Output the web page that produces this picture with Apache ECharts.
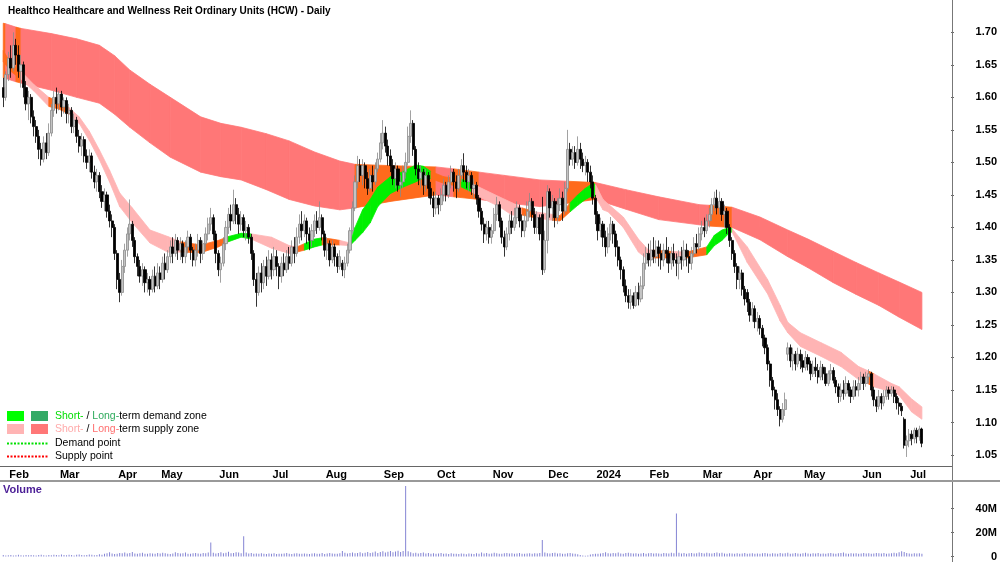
<!DOCTYPE html>
<html>
<head>
<meta charset="utf-8">
<script src="https://cdn.jsdelivr.net/npm/echarts@6/dist/echarts.min.js"></script>
<style>
  html, body { margin: 0; padding: 0; background: #fff; }
  #chart { width: 1000px; height: 562px; }
</style>
</head>
<body>
<div id="chart"></div>
<script>
const FONT = '"Liberation Sans", Arial, sans-serif'

// month tick positions (trading-day index) and their labels
const monthStarts = [2, 22, 45, 62, 85, 106, 127, 150, 171, 193, 215, 234, 255, 276, 296, 316, 339, 358]
const monthLabels = ['Feb', 'Mar', 'Apr', 'May', 'Jun', 'Jul', 'Aug', 'Sep', 'Oct', 'Nov', 'Dec', '2024', 'Feb', 'Mar', 'Apr', 'May', 'Jun', 'Jul']
const slotCount = 375

const priceTicks = [1.05, 1.10, 1.15, 1.20, 1.25, 1.30, 1.35, 1.40, 1.45, 1.50, 1.55, 1.60, 1.65, 1.70]
const volumeTicks = [0, 20, 40]

// daily candles: [open, close, low, high]
const candles = [
  [1.615,1.600,1.585,1.630],[1.600,1.635,1.595,1.640],[1.635,1.660,1.625,1.670],[1.660,1.645,1.630,1.680],
  [1.645,1.680,1.640,1.700],[1.680,1.665,1.650,1.690],[1.665,1.640,1.630,1.680],
  [1.640,1.650,1.615,1.665],[1.650,1.615,1.600,1.655],[1.615,1.590,1.580,1.625],[1.590,1.600,1.565,1.610],
  [1.600,1.570,1.560,1.605],[1.570,1.555,1.540,1.580],
  [1.555,1.540,1.530,1.565],[1.540,1.520,1.505,1.550],[1.520,1.505,1.495,1.530],[1.505,1.530,1.500,1.540],
  [1.530,1.515,1.505,1.545],
  [1.515,1.545,1.510,1.560],[1.545,1.580,1.540,1.590],[1.580,1.600,1.570,1.610],[1.600,1.590,1.575,1.615],
  [1.590,1.605,1.580,1.610],[1.605,1.585,1.570,1.610],[1.585,1.595,1.575,1.600],[1.595,1.575,1.560,1.600],
  [1.575,1.580,1.560,1.590],[1.580,1.555,1.545,1.585],[1.555,1.565,1.545,1.575],[1.565,1.540,1.530,1.570],
  [1.540,1.525,1.515,1.550],[1.525,1.535,1.510,1.545],[1.535,1.510,1.500,1.540],[1.510,1.500,1.490,1.520],
  [1.500,1.510,1.485,1.520],[1.510,1.485,1.475,1.515],[1.485,1.470,1.460,1.495],[1.470,1.480,1.455,1.490],
  [1.480,1.455,1.445,1.485],[1.455,1.440,1.430,1.465],[1.440,1.450,1.425,1.460],[1.450,1.425,1.415,1.455],
  [1.425,1.410,1.400,1.435],[1.410,1.400,1.385,1.420],
  [1.400,1.360,1.350,1.405],[1.360,1.320,1.305,1.365],[1.320,1.300,1.285,1.330],
  [1.300,1.340,1.295,1.350],[1.340,1.365,1.330,1.375],[1.365,1.390,1.355,1.400],[1.390,1.405,1.380,1.443],
  [1.405,1.380,1.370,1.410],
  [1.380,1.355,1.345,1.385],[1.355,1.340,1.325,1.360],[1.340,1.325,1.315,1.350],[1.325,1.335,1.310,1.345],
  [1.335,1.315,1.300,1.340],[1.315,1.320,1.300,1.330],[1.320,1.305,1.295,1.325],[1.305,1.325,1.300,1.335],
  [1.325,1.310,1.300,1.340],[1.310,1.330,1.305,1.345],[1.330,1.320,1.305,1.340],[1.320,1.345,1.315,1.355],
  [1.345,1.335,1.320,1.360],[1.335,1.355,1.330,1.365],
  [1.355,1.370,1.345,1.380],[1.370,1.360,1.345,1.385],[1.360,1.380,1.355,1.390],[1.380,1.365,1.350,1.385],
  [1.365,1.375,1.350,1.385],[1.375,1.355,1.345,1.380],[1.355,1.370,1.345,1.380],[1.370,1.385,1.360,1.395],
  [1.385,1.365,1.350,1.390],[1.365,1.350,1.340,1.370],[1.350,1.365,1.340,1.375],[1.365,1.380,1.355,1.390],
  [1.380,1.360,1.345,1.385],[1.360,1.375,1.350,1.380],[1.375,1.390,1.365,1.400],[1.390,1.405,1.380,1.415],
  [1.405,1.415,1.395,1.430],[1.415,1.390,1.380,1.420],[1.390,1.360,1.345,1.395],[1.360,1.335,1.325,1.365],
  [1.335,1.345,1.315,1.355],
  [1.345,1.375,1.340,1.385],[1.375,1.400,1.365,1.410],[1.400,1.420,1.390,1.430],[1.420,1.410,1.395,1.435],
  [1.410,1.435,1.405,1.458],[1.435,1.420,1.405,1.445],[1.420,1.405,1.390,1.430],[1.405,1.415,1.395,1.425],
  [1.415,1.395,1.385,1.420],[1.395,1.400,1.380,1.410],[1.400,1.385,1.375,1.405],
  [1.385,1.360,1.350,1.390],[1.360,1.320,1.310,1.365],[1.320,1.300,1.278,1.330],[1.300,1.330,1.295,1.340],
  [1.330,1.315,1.300,1.345],[1.315,1.340,1.305,1.350],[1.340,1.325,1.310,1.355],[1.325,1.350,1.320,1.365],
  [1.350,1.335,1.320,1.360],[1.335,1.355,1.325,1.370],[1.355,1.340,1.325,1.365],[1.340,1.325,1.305,1.345],
  [1.325,1.345,1.315,1.355],[1.345,1.335,1.325,1.360],
  [1.335,1.355,1.330,1.365],[1.355,1.345,1.335,1.370],[1.345,1.370,1.340,1.380],[1.370,1.360,1.345,1.385],
  [1.360,1.385,1.355,1.400],[1.385,1.405,1.375,1.420],[1.405,1.395,1.380,1.425],[1.395,1.410,1.385,1.420],
  [1.410,1.390,1.375,1.415],[1.390,1.380,1.365,1.400],[1.380,1.395,1.370,1.405],[1.395,1.410,1.385,1.420],
  [1.410,1.400,1.390,1.425],
  [1.400,1.415,1.395,1.440],[1.415,1.390,1.380,1.420],[1.390,1.365,1.355,1.395],[1.365,1.375,1.350,1.385],
  [1.375,1.350,1.340,1.380],[1.350,1.370,1.345,1.380],[1.370,1.355,1.340,1.375],[1.355,1.340,1.330,1.360],
  [1.340,1.355,1.335,1.365],[1.345,1.335,1.325,1.350],[1.335,1.345,1.322,1.355],[1.345,1.365,1.340,1.375],
  [1.365,1.395,1.360,1.400],[1.395,1.430,1.390,1.440],[1.430,1.470,1.425,1.480],[1.470,1.495,1.460,1.510],
  [1.495,1.480,1.470,1.505],[1.480,1.495,1.465,1.505],[1.495,1.475,1.460,1.500],[1.475,1.460,1.450,1.485],
  [1.460,1.480,1.455,1.490],[1.480,1.470,1.455,1.495],[1.470,1.490,1.465,1.500],[1.490,1.505,1.485,1.515],
  [1.505,1.530,1.500,1.545],[1.530,1.545,1.520,1.565],[1.545,1.525,1.515,1.555],[1.525,1.510,1.495,1.535],
  [1.510,1.495,1.485,1.520],
  [1.495,1.475,1.465,1.505],[1.475,1.490,1.460,1.500],[1.490,1.465,1.455,1.495],[1.465,1.470,1.447,1.480],
  [1.470,1.485,1.460,1.495],[1.485,1.500,1.475,1.515],
  [1.500,1.540,1.495,1.555],[1.540,1.560,1.530,1.580],[1.560,1.520,1.510,1.565],[1.520,1.490,1.480,1.525],
  [1.490,1.475,1.465,1.500],[1.475,1.485,1.460,1.495],[1.485,1.465,1.450,1.490],[1.465,1.480,1.455,1.490],
  [1.480,1.460,1.445,1.485],[1.460,1.445,1.435,1.470],[1.445,1.430,1.416,1.455],[1.430,1.445,1.420,1.455],
  [1.445,1.435,1.420,1.450],
  [1.435,1.450,1.425,1.460],[1.450,1.465,1.440,1.475],[1.465,1.450,1.440,1.470],[1.450,1.470,1.445,1.480],
  [1.470,1.485,1.460,1.495],[1.485,1.470,1.455,1.490],[1.470,1.460,1.445,1.480],[1.460,1.480,1.455,1.490],
  [1.480,1.495,1.470,1.505],[1.495,1.485,1.470,1.514],[1.485,1.470,1.460,1.495],[1.470,1.480,1.455,1.490],
  [1.480,1.460,1.450,1.485],[1.460,1.465,1.445,1.475],[1.465,1.445,1.435,1.470],
  [1.445,1.425,1.415,1.450],[1.425,1.405,1.395,1.430],[1.405,1.390,1.376,1.415],[1.390,1.400,1.380,1.410],
  [1.400,1.385,1.375,1.410],[1.385,1.395,1.375,1.405],
  [1.395,1.420,1.390,1.430],[1.420,1.435,1.410,1.447],[1.435,1.410,1.400,1.440],[1.410,1.385,1.375,1.415],
  [1.385,1.370,1.355,1.395],[1.370,1.390,1.365,1.400],[1.390,1.410,1.380,1.420],[1.410,1.400,1.390,1.425],
  [1.400,1.415,1.395,1.430],
  [1.415,1.430,1.405,1.440],[1.430,1.410,1.400,1.435],[1.410,1.395,1.385,1.420],[1.395,1.410,1.385,1.420],
  [1.410,1.425,1.400,1.440],[1.425,1.440,1.415,1.453],[1.440,1.420,1.410,1.445],[1.420,1.400,1.390,1.430],
  [1.400,1.415,1.390,1.425],[1.415,1.390,1.380,1.420],[1.420,1.335,1.327,1.447],[1.335,1.380,1.330,1.395],
  [1.380,1.455,1.360,1.465],[1.455,1.430,1.415,1.460],[1.430,1.440,1.410,1.450],[1.440,1.415,1.400,1.445],
  [1.415,1.435,1.405,1.445],[1.435,1.445,1.425,1.460],[1.445,1.425,1.410,1.455],[1.425,1.460,1.420,1.470],
  [1.460,1.520,1.455,1.550],[1.520,1.505,1.495,1.530],[1.505,1.515,1.495,1.525],[1.515,1.500,1.490,1.525],
  [1.500,1.520,1.495,1.540],[1.520,1.505,1.490,1.530],[1.505,1.495,1.485,1.515],[1.495,1.500,1.480,1.510],
  [1.500,1.485,1.470,1.505],[1.485,1.470,1.460,1.495],
  [1.470,1.445,1.435,1.480],[1.445,1.420,1.405,1.450],[1.420,1.395,1.380,1.425],[1.395,1.405,1.385,1.415],
  [1.405,1.385,1.370,1.410],[1.385,1.370,1.355,1.395],
  [1.370,1.390,1.360,1.400],[1.390,1.405,1.380,1.416],[1.405,1.390,1.375,1.410],[1.390,1.370,1.355,1.395],
  [1.370,1.350,1.340,1.380],[1.350,1.335,1.320,1.355],
  [1.335,1.310,1.300,1.340],[1.310,1.295,1.285,1.320],[1.295,1.285,1.275,1.305],[1.285,1.295,1.274,1.305],
  [1.295,1.280,1.275,1.300],[1.280,1.300,1.278,1.310],[1.300,1.290,1.280,1.315],[1.290,1.310,1.285,1.325],
  [1.310,1.345,1.305,1.360],[1.345,1.360,1.335,1.370],[1.360,1.350,1.340,1.375],[1.350,1.365,1.340,1.380],
  [1.365,1.355,1.345,1.385],[1.355,1.370,1.345,1.380],[1.370,1.360,1.340,1.380],[1.360,1.350,1.335,1.375],
  [1.350,1.365,1.340,1.375],[1.365,1.360,1.345,1.385],[1.360,1.345,1.330,1.370],[1.345,1.360,1.335,1.370],
  [1.360,1.350,1.340,1.375],[1.350,1.345,1.325,1.360],[1.345,1.355,1.320,1.365],[1.355,1.350,1.335,1.370],
  [1.350,1.365,1.340,1.380],[1.365,1.355,1.340,1.375],[1.355,1.345,1.330,1.365],[1.345,1.360,1.335,1.370],
  [1.360,1.375,1.355,1.385],[1.375,1.370,1.360,1.390],[1.370,1.390,1.365,1.400],[1.390,1.400,1.380,1.410],
  [1.400,1.395,1.385,1.415],[1.395,1.410,1.390,1.420],[1.410,1.420,1.400,1.430],
  [1.420,1.435,1.410,1.445],[1.435,1.445,1.425,1.455],[1.445,1.430,1.420,1.458],[1.430,1.440,1.420,1.455],
  [1.440,1.420,1.410,1.445],
  [1.420,1.425,1.400,1.435],[1.425,1.400,1.390,1.430],[1.400,1.380,1.370,1.405],[1.380,1.360,1.350,1.385],
  [1.360,1.340,1.330,1.365],[1.340,1.320,1.305,1.345],[1.320,1.330,1.305,1.340],[1.330,1.305,1.295,1.335],
  [1.305,1.290,1.280,1.310],[1.300,1.285,1.270,1.305],[1.285,1.265,1.255,1.290],[1.265,1.275,1.255,1.285],
  [1.275,1.255,1.245,1.280],[1.255,1.260,1.240,1.270],[1.260,1.245,1.235,1.265],[1.245,1.230,1.217,1.250],
  [1.230,1.215,1.205,1.235],[1.215,1.190,1.180,1.220],[1.190,1.165,1.155,1.195],[1.165,1.150,1.140,1.170],
  [1.150,1.135,1.120,1.155],[1.135,1.120,1.110,1.145],[1.120,1.105,1.094,1.125],[1.105,1.120,1.100,1.130],
  [1.120,1.135,1.110,1.146],
  [1.205,1.215,1.195,1.223],[1.215,1.195,1.185,1.220],[1.195,1.205,1.180,1.215],[1.205,1.190,1.180,1.210],
  [1.190,1.205,1.185,1.215],[1.205,1.195,1.182,1.212],[1.195,1.185,1.177,1.205],[1.185,1.200,1.180,1.210],
  [1.200,1.190,1.180,1.205],[1.190,1.175,1.165,1.195],[1.175,1.185,1.170,1.195],[1.185,1.180,1.170,1.200],
  [1.180,1.170,1.160,1.190],[1.170,1.185,1.165,1.195],[1.185,1.175,1.165,1.190],[1.175,1.160,1.156,1.185],
  [1.160,1.175,1.156,1.180],[1.175,1.180,1.165,1.190],[1.180,1.165,1.160,1.185],[1.165,1.155,1.145,1.170],
  [1.155,1.140,1.130,1.160],[1.140,1.150,1.132,1.160],[1.150,1.145,1.135,1.165],[1.145,1.160,1.140,1.171],
  [1.160,1.150,1.140,1.165],[1.150,1.140,1.130,1.155],[1.140,1.155,1.135,1.165],[1.155,1.150,1.140,1.165],
  [1.150,1.160,1.140,1.170],[1.160,1.170,1.150,1.178],[1.170,1.160,1.150,1.175],[1.160,1.170,1.155,1.178],
  [1.170,1.175,1.160,1.182],[1.175,1.150,1.140,1.178],
  [1.150,1.135,1.125,1.155],[1.135,1.125,1.116,1.140],[1.125,1.140,1.120,1.150],[1.140,1.130,1.120,1.145],
  [1.130,1.140,1.125,1.150],
  [1.140,1.150,1.135,1.156],[1.150,1.145,1.135,1.155],[1.145,1.150,1.140,1.156],[1.150,1.140,1.130,1.155],
  [1.140,1.130,1.120,1.145],[1.130,1.125,1.112,1.138],[1.125,1.118,1.110,1.130],
  [1.105,1.065,1.060,1.108],[1.065,1.072,1.047,1.080],[1.072,1.082,1.062,1.090],[1.082,1.075,1.065,1.088],
  [1.075,1.088,1.068,1.092],[1.088,1.078,1.068,1.092],[1.078,1.090,1.072,1.095],[1.090,1.068,1.062,1.092]
]

// daily volume, millions of units
const volume = [
  1.2,0.9,1.1,1.3,0.8,1.0,1.4,1.1,0.9,1.2,1.0,1.3,1.1,0.8,1.2,1.5,1.0,0.9,1.3,1.1,
  1.4,1.2,1.0,1.6,1.3,1.1,1.5,1.2,0.9,1.4,1.7,1.3,1.0,1.2,1.6,1.4,1.1,1.3,1.8,1.5,
  2.2,2.8,3.5,2.6,2.0,2.4,3.0,2.7,3.4,2.5,2.9,3.8,2.6,2.3,2.8,3.1,2.4,2.2,2.7,2.5,
  2.3,2.9,2.6,3.2,2.8,2.4,2.1,2.6,3.6,2.9,2.5,2.7,3.3,2.4,2.2,2.8,3.0,2.6,2.3,2.9,
  2.7,3.4,11.8,3.1,2.6,2.9,3.5,2.8,3.2,3.9,2.7,3.0,3.6,3.3,2.8,17.0,3.4,2.5,2.9,2.4,
  2.6,2.2,2.8,2.4,2.1,2.5,2.3,2.7,2.0,2.4,2.2,2.6,2.9,2.3,2.1,2.5,2.8,2.2,2.4,2.6,
  2.3,2.0,2.5,2.7,2.2,2.4,2.9,2.1,2.6,3.0,2.5,2.2,2.4,2.8,4.5,3.2,2.6,2.9,3.3,2.7,
  3.0,3.6,2.8,3.1,3.8,2.9,3.4,4.2,3.0,3.7,4.4,3.3,4.0,4.6,3.5,4.2,4.9,3.8,4.5,59.0,
  4.4,3.6,2.8,3.2,2.5,2.9,3.3,2.6,3.0,2.4,2.7,2.2,2.5,2.9,2.3,2.6,2.1,2.8,2.4,2.2,
  2.0,2.5,2.3,1.8,2.6,2.2,2.0,2.7,2.4,3.4,2.5,2.9,2.3,2.6,3.1,2.8,2.4,2.2,2.7,3.0,
  2.5,2.8,2.3,2.6,2.9,2.4,2.2,2.5,2.7,2.3,2.8,2.5,3.0,13.7,3.4,2.7,2.5,2.9,3.1,2.6,
  2.8,2.4,2.2,2.7,3.0,2.5,2.3,1.8,1.2,0.8,0.6,0.9,1.6,2.1,2.4,2.2,2.6,2.9,3.5,2.7,
  2.5,3.0,2.8,3.3,2.6,2.4,2.9,3.1,2.7,2.5,2.8,2.3,2.6,2.9,2.4,2.7,3.0,2.5,2.8,2.6,
  2.4,2.9,2.7,2.5,3.1,2.8,36.0,3.2,2.6,2.9,2.4,2.7,3.0,2.5,2.8,3.3,2.9,2.6,3.1,2.7,
  2.5,2.9,3.4,2.8,3.1,2.6,2.4,2.8,2.5,2.2,2.7,2.4,2.6,2.9,2.3,2.5,2.8,2.2,2.6,2.4,
  2.7,3.0,2.5,2.2,2.8,2.6,2.3,2.9,2.5,2.7,3.1,2.4,2.6,2.9,2.5,2.3,2.8,3.2,2.6,2.4,
  2.7,2.5,2.9,2.2,2.6,2.4,2.8,3.0,2.5,2.3,2.7,2.9,3.4,2.6,2.4,2.8,2.5,2.7,2.3,2.6,
  2.9,2.5,2.8,2.4,2.6,3.0,2.7,2.5,2.9,2.3,2.6,2.8,3.2,2.7,3.6,4.4,3.8,2.9,2.6,2.4,
  2.8,2.5,2.7,2.3
]

// band points: [day index, upper, lower, zone state of the stretch that starts here]
const longBand = [
  [0,1.714,1.630,'both'],[1,1.713,1.629,'supply'],[5,1.708,1.624,'both'],[7,1.706,1.622,'supply'],
  [19,1.698,1.611,'supply'],[29,1.690,1.600,'supply'],[38,1.680,1.591,'supply'],[44,1.664,1.574,'supply'],
  [50,1.642,1.554,'supply'],[58,1.620,1.530,'supply'],[66,1.600,1.508,'supply'],[78,1.570,1.485,'supply'],
  [86,1.560,1.478,'supply'],[94,1.554,1.473,'supply'],[104,1.544,1.458,'supply'],[113,1.533,1.443,'supply'],
  [123,1.516,1.433,'supply'],[133,1.502,1.427,'supply'],[139,1.497,1.430,'both'],[153,1.495,1.440,'both'],
  [171,1.493,1.450,'supply'],[178,1.490,1.447,'both'],[188,1.485,1.443,'supply'],[198,1.480,1.438,'supply'],
  [212,1.473,1.432,'supply'],[223,1.471,1.437,'both'],[234,1.469,1.443,'supply'],[246,1.458,1.428,'supply'],
  [259,1.447,1.412,'supply'],[275,1.435,1.404,'supply'],[279,1.434,1.402,'both'],[288,1.431,1.400,'supply'],
  [299,1.416,1.381,'supply'],[310,1.396,1.355,'supply'],[318,1.382,1.338,'supply'],[328,1.363,1.315,'supply'],
  [337,1.346,1.297,'supply'],[346,1.330,1.280,'supply'],[354,1.316,1.262,'supply'],[363,1.300,1.243,'supply']
]

const shortBand = [
  [0,1.672,1.655,'both'],[3,1.652,1.640,'both'],[7,1.640,1.628,'supply'],[12,1.620,1.610,'supply'],
  [18,1.600,1.586,'both'],[22,1.594,1.582,'both'],[26,1.584,1.574,'supply'],[30,1.570,1.560,'supply'],
  [34,1.548,1.534,'supply'],[38,1.519,1.504,'supply'],[42,1.488,1.470,'supply'],[46,1.453,1.432,'supply'],
  [51,1.430,1.407,'supply'],[58,1.396,1.376,'supply'],[65,1.386,1.362,'supply'],[70,1.378,1.362,'both'],
  [78,1.373,1.361,'both'],[85,1.380,1.370,'both'],[89,1.386,1.378,'demand'],[94,1.391,1.385,'demand'],
  [98,1.390,1.382,'supply'],[106,1.385,1.368,'supply'],[113,1.372,1.360,'supply'],[116,1.370,1.362,'both'],
  [119,1.375,1.365,'demand'],[123,1.382,1.370,'demand'],[126,1.384,1.373,'both'],[130,1.382,1.373,'both'],
  [133,1.380,1.373,'supply'],[137,1.376,1.372,'demand'],[139,1.400,1.380,'demand'],[142,1.427,1.392,'demand'],
  [145,1.443,1.407,'demand'],[148,1.462,1.432,'demand'],[153,1.478,1.452,'demand'],[158,1.486,1.462,'demand'],
  [163,1.496,1.470,'demand'],[166,1.494,1.476,'demand'],[169,1.486,1.475,'both'],[174,1.478,1.468,'both'],
  [181,1.474,1.462,'demand'],[185,1.468,1.455,'supply'],[188,1.462,1.447,'supply'],[196,1.447,1.432,'supply'],
  [201,1.438,1.419,'supply'],[205,1.430,1.419,'both'],[210,1.424,1.415,'supply'],[217,1.420,1.411,'both'],
  [220,1.418,1.410,'both'],[224,1.438,1.424,'demand'],[227,1.450,1.434,'demand'],[230,1.460,1.443,'demand'],
  [233,1.468,1.449,'demand'],[234,1.466,1.447,'supply'],[237,1.443,1.427,'supply'],[239,1.436,1.424,'supply'],
  [245,1.416,1.400,'supply'],[251,1.382,1.362,'supply'],[255,1.365,1.350,'supply'],[257,1.365,1.353,'both'],
  [264,1.363,1.353,'supply'],[270,1.362,1.353,'both'],[278,1.370,1.358,'demand'],[281,1.388,1.372,'demand'],
  [284,1.396,1.380,'demand'],[287,1.400,1.392,'demand'],[288,1.398,1.393,'supply'],[294,1.370,1.346,'supply'],
  [302,1.320,1.298,'supply'],[307,1.280,1.256,'supply'],[310,1.254,1.238,'supply'],[315,1.238,1.217,'supply'],
  [323,1.223,1.202,'supply'],[331,1.208,1.186,'supply'],[338,1.186,1.166,'supply'],[342,1.179,1.159,'both'],
  [344,1.175,1.155,'supply'],[351,1.160,1.147,'supply'],[354,1.155,1.142,'supply'],[359,1.136,1.116,'supply'],
  [363,1.124,1.105,'supply']
]

const zoneColors = {
  long: { supply: '#ff7777', demand: '#33aa66', both: '#ff6a1c' },
  short: { supply: '#ffb4b4', demand: '#00f000', both: '#ff6a1c' },
}

const slots = Array.from({ length: slotCount }, (_, i) => String(i))
const labelAt = {}
monthStarts.forEach((idx, k) => { labelAt[idx] = monthLabels[k] })
const isMonthStart = (idx) => labelAt[idx] !== undefined

// one polygon piece per pair of neighbouring band points
const bandPieces = (points, palette) => {
  const out = []
  for (let k = 0; k < points.length - 1; k++) {
    const a = points[k]
    const b = points[k + 1]
    out.push({
      value: [a[0], a[1], a[2], b[0], b[1], b[2]],
      itemStyle: { color: palette[a[3]] },
    })
  }
  return out
}

const renderBand = (params, api) => {
  const color = api.visual('color')
  const p1 = api.coord([api.value(0), api.value(1)])
  const p2 = api.coord([api.value(3), api.value(4)])
  const p3 = api.coord([api.value(3), api.value(5)])
  const p4 = api.coord([api.value(0), api.value(2)])
  return {
    type: 'polygon',
    shape: { points: [p1, p2, p3, p4] },
    style: { fill: color, stroke: color, lineWidth: 0.8 },
  }
}

const legendText = (y, text, rich) => ({
  type: 'text',
  x: 55,
  y: y,
  style: {
    text: text,
    rich: rich,
    fill: '#000',
    font: '10.5px ' + FONT,
    verticalAlign: 'middle',
  },
})

const chart = echarts.init(document.getElementById('chart'))

chart.setOption({
  animation: false,
  backgroundColor: '#fff',
  title: {
    text: 'Healthco Healthcare and Wellness Reit Ordinary Units (HCW) - Daily',
    left: 3,
    top: 1,
    textStyle: { fontFamily: FONT, fontSize: 10, fontWeight: 'bold', color: '#000' },
  },
  grid: [
    { left: 2, right: 48, top: 0, height: 466 },
    { left: 2, right: 48, top: 484.7, height: 73.8 },
  ],
  xAxis: [
    {
      type: 'category',
      gridIndex: 0,
      data: slots,
      boundaryGap: true,
      axisLine: { lineStyle: { color: '#666', width: 1 } },
      axisTick: { interval: isMonthStart, length: 4, lineStyle: { color: '#666' } },
      axisLabel: {
        interval: isMonthStart,
        formatter: (v, i) => labelAt[i] || '',
        align: 'left',
        margin: 3,
        padding: [0, 0, 0, 1],
        fontFamily: FONT,
        fontSize: 11,
        fontWeight: 'bold',
        color: '#000',
      },
      splitLine: { show: false },
    },
    {
      type: 'category',
      gridIndex: 1,
      data: slots,
      boundaryGap: true,
      axisLine: { show: false },
      axisTick: { show: false },
      axisLabel: { show: false },
      splitLine: { show: false },
    },
  ],
  yAxis: [
    {
      type: 'value',
      gridIndex: 0,
      position: 'right',
      min: 1.0331,
      max: 1.7497,
      axisLine: { show: false },
      axisTick: { show: true, length: 3, customValues: priceTicks, lineStyle: { color: '#666' } },
      axisLabel: {
        customValues: priceTicks,
        formatter: (v) => v.toFixed(2),
        align: 'right',
        margin: 46,
        fontFamily: FONT,
        fontSize: 11,
        fontWeight: 'bold',
        color: '#000',
      },
      splitLine: { show: false },
    },
    {
      type: 'value',
      gridIndex: 1,
      position: 'right',
      min: 0,
      max: 60,
      axisLine: { show: false },
      axisTick: { show: true, length: 3, customValues: volumeTicks, lineStyle: { color: '#666' } },
      axisLabel: {
        customValues: volumeTicks,
        formatter: (v) => (v === 0 ? '0' : v + 'M'),
        align: 'right',
        margin: 46,
        fontFamily: FONT,
        fontSize: 11,
        fontWeight: 'bold',
        color: '#000',
      },
      splitLine: { show: false },
    },
  ],
  series: [
    {
      name: 'long band',
      type: 'custom',
      xAxisIndex: 0,
      yAxisIndex: 0,
      renderItem: renderBand,
      encode: { x: [0, 3], y: [1, 2, 4, 5] },
      data: bandPieces(longBand, zoneColors.long),
      silent: true,
      z: 1,
    },
    {
      name: 'short band',
      type: 'custom',
      xAxisIndex: 0,
      yAxisIndex: 0,
      renderItem: renderBand,
      encode: { x: [0, 3], y: [1, 2, 4, 5] },
      data: bandPieces(shortBand, zoneColors.short),
      silent: true,
      z: 2,
    },
    {
      name: 'HCW',
      type: 'candlestick',
      xAxisIndex: 0,
      yAxisIndex: 0,
      data: candles,
      barWidth: 2.6,
      itemStyle: {
        color: '#c4c4c4',
        color0: '#000000',
        borderColor: '#8a8a8a',
        borderColor0: '#000000',
        borderWidth: 0.8,
      },
      z: 3,
    },
    {
      name: 'Volume',
      type: 'bar',
      xAxisIndex: 1,
      yAxisIndex: 1,
      data: volume,
      barWidth: 1,
      itemStyle: { color: '#8585d4' },
    },
  ],
  graphic: [
    { type: 'line', shape: { x1: 952.5, y1: 0, x2: 952.5, y2: 562 }, style: { stroke: '#777', lineWidth: 1 }, z: 10 },
    { type: 'line', shape: { x1: 0, y1: 466.5, x2: 952, y2: 466.5 }, style: { stroke: '#666', lineWidth: 1 }, z: 10 },
    { type: 'line', shape: { x1: 0, y1: 481, x2: 1000, y2: 481 }, style: { stroke: '#999', lineWidth: 2 }, z: 10 },
    {
      type: 'text', x: 3, y: 490,
      style: { text: 'Volume', fill: '#4b1e96', font: 'bold 11px ' + FONT, verticalAlign: 'middle' },
    },
    { type: 'rect', shape: { x: 7, y: 411, width: 17, height: 10 }, style: { fill: '#00ff00' } },
    { type: 'rect', shape: { x: 31, y: 411, width: 17, height: 10 }, style: { fill: '#33aa66' } },
    { type: 'rect', shape: { x: 7, y: 424, width: 17, height: 10 }, style: { fill: '#ffb4b4' } },
    { type: 'rect', shape: { x: 31, y: 424, width: 17, height: 10 }, style: { fill: '#ff7777' } },
    { type: 'line', shape: { x1: 7, y1: 443.5, x2: 48, y2: 443.5 }, style: { stroke: '#00e000', lineWidth: 2, lineDash: [2, 1.5] } },
    { type: 'line', shape: { x1: 7, y1: 456.5, x2: 48, y2: 456.5 }, style: { stroke: '#ff0000', lineWidth: 2, lineDash: [2, 1.5] } },
    legendText(416.5, '{g|Short-} / {d|Long-}term demand zone', {
      g: { fill: '#00dd00', font: '10.5px ' + FONT },
      d: { fill: '#2eaa5c', font: '10.5px ' + FONT },
    }),
    legendText(429.5, '{p|Short-} / {r|Long-}term supply zone', {
      p: { fill: '#ffaaaa', font: '10.5px ' + FONT },
      r: { fill: '#ff6f6f', font: '10.5px ' + FONT },
    }),
    legendText(443.5, 'Demand point', {}),
    legendText(456.5, 'Supply point', {}),
  ],
})
</script>
</body>
</html>
